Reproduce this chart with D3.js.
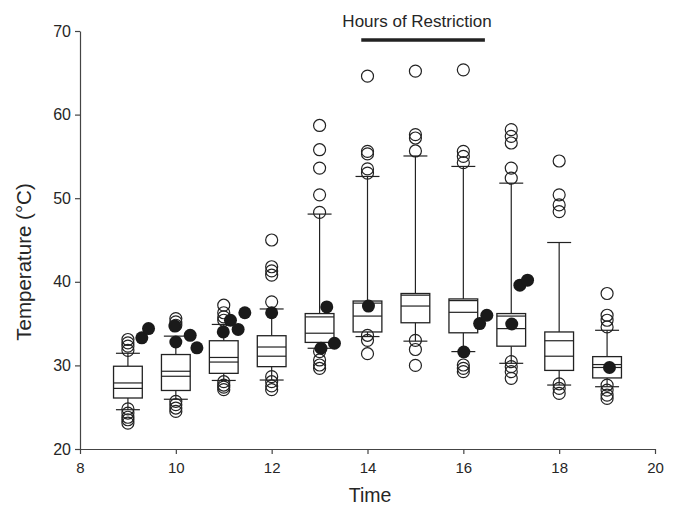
<!DOCTYPE html>
<html>
<head>
<meta charset="utf-8">
<script src="https://cdn.jsdelivr.net/npm/d3@7"></script>
<style>
  body { margin: 0; background: #fff; }
  text { font-family: "Liberation Sans", Arial, sans-serif; fill: #262626; }
</style>
</head>
<body>
<div class="chart"></div>
<script>
// hourly box plots of temperature
const hours = [9, 10, 11, 12, 13, 14, 15, 16, 17, 18, 19];
const q1 = [26.1, 27.0, 29.05, 29.85, 32.75, 34.0, 35.1, 33.9, 32.3, 29.4, 28.5];
const q3 = [29.9, 31.3, 32.95, 33.55, 36.2, 37.7, 38.6, 37.95, 36.2, 34.0, 31.05];
const medians = [27.9, 29.3, 30.95, 32.2, 35.8, 37.45, 38.4, 37.75, 35.9, 32.95, 30.1];
const means = [27.25, 28.7, 30.4, 31.1, 33.85, 35.9, 37.1, 36.35, 34.4, 31.1, 29.75];
const whiskerLow = [24.7, 25.95, 28.2, 28.25, 32.05, 33.45, 32.9, 31.65, 30.25, 27.65, 27.45];
const whiskerHigh = [31.45, 33.5, 34.9, 36.75, 48.1, 52.6, 55.05, 53.8, 51.8, 44.7, 34.2];
const outliers = [
  [33.1, 32.7, 32.3, 31.8, 24.8, 24.3, 23.8, 23.5, 23.1],
  [35.6, 35.2, 34.8, 25.7, 25.3, 24.9, 24.5],
  [37.2, 36.3, 35.8, 35.4, 28.05, 27.65, 27.4, 27.1],
  [45.0, 41.8, 41.3, 40.8, 37.6, 28.65, 28.05, 27.55, 27.1],
  [58.7, 55.8, 53.6, 50.4, 48.3, 31.65, 30.65, 30.05, 29.65],
  [64.6, 55.6, 55.3, 53.5, 53.0, 33.6, 33.0, 31.4],
  [65.2, 57.6, 57.2, 55.65, 33.0, 31.9, 30.0],
  [65.35, 55.6, 55.0, 54.25, 30.05, 29.65, 29.25],
  [58.2, 57.4, 56.6, 53.6, 52.4, 30.45, 29.85, 29.25, 28.45],
  [54.45, 50.4, 49.2, 48.4, 27.8, 27.25, 26.65],
  [38.6, 36.0, 35.4, 34.6, 27.65, 27.05, 26.45, 26.05]
];

// filled points
const dotTimes = [9.29, 9.43, 9.98, 10.0, 10.3, 10.44, 10.99, 11.14, 11.3, 11.44, 12.0,
  13.15, 13.03, 13.31, 14.02, 16.01, 16.34, 16.49, 17.01, 17.18, 17.34, 19.05];
const dotTemps = [33.3, 34.4, 34.7, 32.8, 33.6, 32.1, 34.0, 35.4, 34.3, 36.3, 36.3,
  37.0, 32.05, 32.65, 37.1, 31.6, 35.0, 36.0, 34.95, 39.6, 40.2, 29.75];

const xTicks = [8, 10, 12, 14, 16, 18, 20];
const yTicks = [20, 30, 40, 50, 60, 70];
const restriction = [13.87, 16.45];

const width = 682, height = 505;
const svg = d3.select(".chart").append("svg")
  .attr("width", width)
  .attr("height", height);

const x = d3.scaleLinear().domain([8, 20]).range([80, 655]);
const y = d3.scaleLinear().domain([20, 70]).range([449, 31]);

const boxW = 0.6, capW = 0.5;
const ink = "#222";

// axes
const xAxis = svg.append("g")
  .attr("transform", "translate(0,449)")
  .call(d3.axisBottom(x).tickValues(xTicks).tickSize(5).tickPadding(8).tickSizeOuter(0));
const yAxis = svg.append("g")
  .attr("transform", "translate(80,0)")
  .call(d3.axisLeft(y).tickValues(yTicks).tickSize(5).tickPadding(4).tickSizeOuter(0));

[xAxis, yAxis].forEach(a => {
  a.selectAll("path, line").attr("stroke", "#444").attr("stroke-width", 1.2);
  a.selectAll("text").attr("fill", "#262626");
});
xAxis.selectAll("text").style("font-size", "15px");
yAxis.selectAll("text").style("font-size", "16px");

svg.append("text")
  .attr("x", 370).attr("y", 502)
  .attr("text-anchor", "middle")
  .style("font-size", "19.5px")
  .text("Time");

svg.append("text")
  .attr("transform", "translate(31,262) rotate(-90)")
  .attr("text-anchor", "middle")
  .style("font-size", "20.5px")
  .text("Temperature (°C)");

// restriction marker
svg.append("text")
  .attr("x", 417)
  .attr("y", 26.5)
  .attr("text-anchor", "middle")
  .style("font-size", "17px")
  .text("Hours of Restriction");

svg.append("line")
  .attr("x1", x(restriction[0])).attr("x2", x(restriction[1]))
  .attr("y1", 40).attr("y2", 40)
  .attr("stroke", ink).attr("stroke-width", 3.5);

// boxes
const boxes = svg.append("g")
  .selectAll("g")
  .data(hours.map((h, i) => ({ h, i })))
  .join("g");

boxes.append("line")
  .attr("x1", d => x(d.h)).attr("x2", d => x(d.h))
  .attr("y1", d => y(q3[d.i])).attr("y2", d => y(whiskerHigh[d.i]))
  .attr("stroke", ink).attr("stroke-width", 1.2);
boxes.append("line")
  .attr("x1", d => x(d.h)).attr("x2", d => x(d.h))
  .attr("y1", d => y(q1[d.i])).attr("y2", d => y(whiskerLow[d.i]))
  .attr("stroke", ink).attr("stroke-width", 1.2);

[whiskerHigh, whiskerLow].forEach(arr => {
  boxes.append("line")
    .attr("x1", d => x(d.h - capW / 2)).attr("x2", d => x(d.h + capW / 2))
    .attr("y1", d => y(arr[d.i])).attr("y2", d => y(arr[d.i]))
    .attr("stroke", ink).attr("stroke-width", 1.2);
});

boxes.append("rect")
  .attr("x", d => x(d.h - boxW / 2))
  .attr("width", x(boxW) - x(0))
  .attr("y", d => y(q3[d.i]))
  .attr("height", d => y(q1[d.i]) - y(q3[d.i]))
  .attr("fill", "#fff")
  .attr("stroke", ink).attr("stroke-width", 1.3);

[medians, means].forEach(arr => {
  boxes.append("line")
    .attr("x1", d => x(d.h - boxW / 2)).attr("x2", d => x(d.h + boxW / 2))
    .attr("y1", d => y(arr[d.i])).attr("y2", d => y(arr[d.i]))
    .attr("stroke", ink).attr("stroke-width", 1.2);
});

// outliers
boxes.selectAll("circle")
  .data(d => outliers[d.i].map(v => ({ h: d.h, v })))
  .join("circle")
  .attr("cx", d => x(d.h))
  .attr("cy", d => y(d.v))
  .attr("r", 6)
  .attr("fill", "none")
  .attr("stroke", ink)
  .attr("stroke-width", 1.2);

// filled points
svg.append("g")
  .selectAll("circle")
  .data(dotTimes.map((t, i) => ({ t, v: dotTemps[i] })))
  .join("circle")
  .attr("cx", d => x(d.t))
  .attr("cy", d => y(d.v))
  .attr("r", 6.5)
  .attr("fill", "#1a1a1a");
</script>
</body>
</html>
